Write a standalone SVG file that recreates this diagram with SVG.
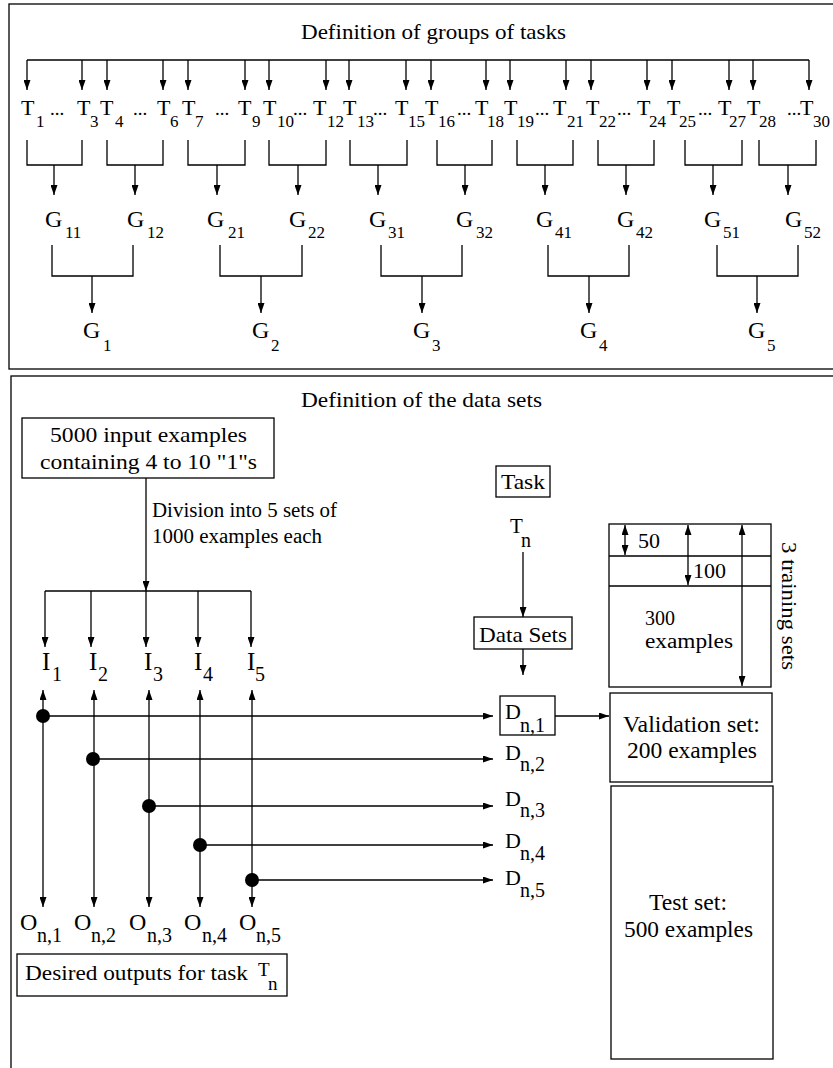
<svg xmlns="http://www.w3.org/2000/svg" width="833" height="1068" viewBox="0 0 833 1068">
<defs>
<style>
text{font-family:"Liberation Serif","Times New Roman",serif;fill:#000}
.ln{stroke:#000;stroke-width:1.3;fill:none}
.ar{stroke:#000;stroke-width:1.3;fill:none;marker-end:url(#ah)}
.da{stroke:#000;stroke-width:1.3;fill:none;marker-end:url(#ah);marker-start:url(#ahs)}
.box{stroke:#000;stroke-width:1.3;fill:#fff}
.big{font-size:22px}
.sub{font-size:17px}
.sub2{font-size:20px}
</style>
<marker id="ah" markerWidth="10" markerHeight="7" refX="10" refY="3.5" orient="auto" markerUnits="userSpaceOnUse"><path d="M0,0 L10,3.5 L0,7 z" fill="#000"/></marker>
<marker id="ahs" markerWidth="10" markerHeight="7" refX="10" refY="3.5" orient="auto-start-reverse" markerUnits="userSpaceOnUse"><path d="M0,0 L10,3.5 L0,7 z" fill="#000"/></marker>
</defs>
<rect width="833" height="1068" fill="#fff"/>

<g id="frame-groups"><rect class="ln" x="9" y="4" width="830" height="365"/></g>
<g id="frame-data"><rect class="ln" x="11" y="376" width="830" height="700"/></g>

<g id="title-groups"><text x="301" y="39" font-size="21" textLength="265" lengthAdjust="spacingAndGlyphs">Definition of groups of tasks</text></g>
<g id="title-data"><text x="301" y="407" font-size="21" textLength="241" lengthAdjust="spacingAndGlyphs">Definition of the data sets</text></g>

<g id="connectors">
<path class="ln" d="M27,60 H809"/>
<path class="ar" d="M27,60 V90"/><path class="ar" d="M82,60 V90"/><path class="ar" d="M107,60 V90"/><path class="ar" d="M163,60 V90"/>
<path class="ar" d="M188,60 V90"/><path class="ar" d="M245,60 V90"/><path class="ar" d="M269,60 V90"/><path class="ar" d="M326,60 V90"/>
<path class="ar" d="M349,60 V90"/><path class="ar" d="M406,60 V90"/><path class="ar" d="M431,60 V90"/><path class="ar" d="M486,60 V90"/>
<path class="ar" d="M510,60 V90"/><path class="ar" d="M566,60 V90"/><path class="ar" d="M591,60 V90"/><path class="ar" d="M647,60 V90"/>
<path class="ar" d="M672,60 V90"/><path class="ar" d="M729,60 V90"/><path class="ar" d="M753,60 V90"/><path class="ar" d="M809,60 V90"/>
<path class="ln" d="M27,140 V165 H82 V140"/><path class="ar" d="M54,165 V195"/>
<path class="ln" d="M107,140 V165 H163 V140"/><path class="ar" d="M135,165 V195"/>
<path class="ln" d="M188,140 V165 H245 V140"/><path class="ar" d="M217,165 V195"/>
<path class="ln" d="M269,140 V165 H326 V140"/><path class="ar" d="M298,165 V195"/>
<path class="ln" d="M350,140 V165 H407 V140"/><path class="ar" d="M378,165 V195"/>
<path class="ln" d="M437,140 V165 H492 V140"/><path class="ar" d="M465,165 V195"/>
<path class="ln" d="M517,140 V165 H573 V140"/><path class="ar" d="M545,165 V195"/>
<path class="ln" d="M598,140 V165 H654 V140"/><path class="ar" d="M626,165 V195"/>
<path class="ln" d="M685,140 V165 H742 V140"/><path class="ar" d="M713,165 V195"/>
<path class="ln" d="M759,140 V165 H816 V140"/><path class="ar" d="M788,165 V195"/>
<path class="ln" d="M52,245 V276 H133 V245"/><path class="ar" d="M92,276 V313"/>
<path class="ln" d="M220,245 V276 H302 V245"/><path class="ar" d="M261,276 V313"/>
<path class="ln" d="M381,245 V276 H462 V245"/><path class="ar" d="M422,276 V313"/>
<path class="ln" d="M548,245 V276 H629 V245"/><path class="ar" d="M589,276 V313"/>
<path class="ln" d="M717,245 V276 H798 V245"/><path class="ar" d="M757,276 V313"/>
<path class="ar" d="M146,478 V591"/>
<path class="ln" d="M45,591 H251"/>
<path class="ar" d="M45,591 V647"/><path class="ar" d="M91,591 V647"/><path class="ar" d="M146,591 V647"/><path class="ar" d="M198,591 V647"/><path class="ar" d="M251,591 V647"/>
<path class="da" d="M43,690 V907"/><path class="da" d="M94,690 V907"/><path class="da" d="M149,690 V907"/><path class="da" d="M200,690 V907"/><path class="da" d="M252,690 V907"/>
<path class="ar" d="M43,716 H493"/>
<path class="ar" d="M94,759 H493"/>
<path class="ar" d="M149,806 H493"/>
<path class="ar" d="M200,845 H493"/>
<path class="ar" d="M252,880 H493"/>
<circle cx="43" cy="716" r="7"/><circle cx="93" cy="759" r="7"/><circle cx="149" cy="806" r="7"/><circle cx="200" cy="845" r="7"/><circle cx="252" cy="880" r="7"/>
<path class="ar" d="M523,552 V617"/>
<path class="ar" d="M523,649 V675"/>
<path class="ar" d="M555,716 H609"/>
<path class="da" d="M625,525 V555"/>
<path class="da" d="M688,525 V585"/>
<path class="da" d="M742,525 V686"/>
</g>

<g id="task-labels" class="big">
<text x="21" y="115">T</text><text class="sub" x="36" y="127">1</text><text x="50" y="115" font-size="19">...</text><text x="77" y="115">T</text><text class="sub" x="90" y="127">3</text>
<text x="100" y="115">T</text><text class="sub" x="115" y="127">4</text><text x="133" y="115" font-size="19">...</text><text x="157" y="115">T</text><text class="sub" x="170" y="127">6</text>
<text x="182" y="115">T</text><text class="sub" x="195" y="127">7</text><text x="215" y="115" font-size="19">...</text><text x="238" y="115">T</text><text class="sub" x="252" y="127">9</text>
<text x="263" y="115">T</text><text class="sub" x="277" y="127">10</text><text x="293" y="115" font-size="19">...</text><text x="313" y="115">T</text><text class="sub" x="327" y="127">12</text>
<text x="343" y="115">T</text><text class="sub" x="357" y="127">13</text><text x="373" y="115" font-size="19">...</text><text x="395" y="115">T</text><text class="sub" x="408" y="127">15</text>
<text x="425" y="115">T</text><text class="sub" x="438" y="127">16</text><text x="457" y="115" font-size="19">...</text><text x="475" y="115">T</text><text class="sub" x="487" y="127">18</text>
<text x="504" y="115">T</text><text class="sub" x="517" y="127">19</text><text x="535" y="115" font-size="19">...</text><text x="553" y="115">T</text><text class="sub" x="567" y="127">21</text>
<text x="586" y="115">T</text><text class="sub" x="599" y="127">22</text><text x="617" y="115" font-size="19">...</text><text x="637" y="115">T</text><text class="sub" x="649" y="127">24</text>
<text x="667" y="115">T</text><text class="sub" x="679" y="127">25</text><text x="698" y="115" font-size="19">...</text><text x="718" y="115">T</text><text class="sub" x="729" y="127">27</text>
<text x="747" y="115">T</text><text class="sub" x="759" y="127">28</text><text x="787" y="115" font-size="19">...</text><text x="800" y="115">T</text><text class="sub" x="813" y="127">30</text>
</g>

<g id="subgroup-labels" font-size="24">
<text x="45" y="227">G</text><text class="sub" x="65" y="238">11</text>
<text x="127" y="227">G</text><text class="sub" x="147" y="238">12</text>
<text x="207" y="227">G</text><text class="sub" x="228" y="238">21</text>
<text x="289" y="227">G</text><text class="sub" x="308" y="238">22</text>
<text x="369" y="227">G</text><text class="sub" x="388" y="238">31</text>
<text x="456" y="227">G</text><text class="sub" x="476" y="238">32</text>
<text x="536" y="227">G</text><text class="sub" x="555" y="238">41</text>
<text x="617" y="227">G</text><text class="sub" x="636" y="238">42</text>
<text x="704" y="227">G</text><text class="sub" x="723" y="238">51</text>
<text x="785" y="227">G</text><text class="sub" x="804" y="238">52</text>
</g>

<g id="group-labels" font-size="24">
<text x="83" y="338">G</text><text class="sub" x="103" y="351">1</text>
<text x="252" y="338">G</text><text class="sub" x="271" y="351">2</text>
<text x="413" y="338">G</text><text class="sub" x="432" y="351">3</text>
<text x="580" y="338">G</text><text class="sub" x="599" y="351">4</text>
<text x="748" y="338">G</text><text class="sub" x="767" y="351">5</text>
</g>

<g id="input-box">
<rect class="box" x="22" y="418" width="252" height="60"/>
<text x="50" y="442" font-size="22" textLength="197" lengthAdjust="spacingAndGlyphs">5000 input examples</text>
<text x="40" y="469" font-size="22" textLength="217" lengthAdjust="spacingAndGlyphs">containing 4 to 10 "1"s</text>
</g>

<g id="division-label" font-size="20">
<text x="152" y="517" textLength="185" lengthAdjust="spacingAndGlyphs">Division into 5 sets of</text>
<text x="152" y="543" textLength="170" lengthAdjust="spacingAndGlyphs">1000 examples each</text>
</g>

<g id="input-sets" font-size="25">
<text x="42" y="670">I</text><text class="sub2" x="52" y="681">1</text>
<text x="89" y="670">I</text><text class="sub2" x="98" y="681">2</text>
<text x="144" y="670">I</text><text class="sub2" x="153" y="681">3</text>
<text x="194" y="670">I</text><text class="sub2" x="203" y="681">4</text>
<text x="247" y="670">I</text><text class="sub2" x="255" y="681">5</text>
</g>

<g id="outputs" font-size="24">
<text x="20" y="930">O</text><text class="sub2" x="37" y="942">n,1</text>
<text x="74" y="930">O</text><text class="sub2" x="91" y="942">n,2</text>
<text x="129" y="930">O</text><text class="sub2" x="147" y="942">n,3</text>
<text x="184" y="930">O</text><text class="sub2" x="202" y="942">n,4</text>
<text x="239" y="930">O</text><text class="sub2" x="256" y="942">n,5</text>
</g>

<g id="desired-box">
<rect class="box" x="17" y="954" width="270" height="42"/>
<text x="25" y="980" font-size="22" textLength="223" lengthAdjust="spacingAndGlyphs">Desired outputs for task</text>
<text x="258" y="976" font-size="19">T</text><text x="268" y="990" font-size="19">n</text>
</g>

<g id="task-box">
<rect class="box" x="496" y="466" width="54" height="31"/>
<text x="501" y="489" font-size="21" textLength="44" lengthAdjust="spacingAndGlyphs">Task</text>
</g>

<g id="task-tn">
<text x="510" y="533" font-size="21">T</text><text x="521" y="547" font-size="20">n</text>
</g>

<g id="datasets-box">
<rect class="box" x="474" y="617" width="98" height="32"/>
<text x="479" y="642" font-size="21" textLength="88" lengthAdjust="spacingAndGlyphs">Data Sets</text>
</g>

<g id="d-sets" font-size="22">
<rect class="box" x="500" y="696" width="55" height="39"/>
<text x="505" y="719">D</text><text class="sub2" x="520" y="732">n,1</text>
<text x="505" y="760">D</text><text class="sub2" x="520" y="771">n,2</text>
<text x="505" y="806">D</text><text class="sub2" x="520" y="817">n,3</text>
<text x="505" y="848">D</text><text class="sub2" x="520" y="860">n,4</text>
<text x="505" y="885">D</text><text class="sub2" x="520" y="897">n,5</text>
</g>

<g id="training-box">
<rect class="ln" x="609" y="524" width="162" height="163"/>
<path class="ln" d="M609,556 H771 M609,586 H771"/>
<text x="638" y="548" font-size="22">50</text>
<text x="693" y="578" font-size="22">100</text>
<text x="645" y="625" font-size="20">300</text>
<text x="645" y="648" font-size="20" textLength="88" lengthAdjust="spacingAndGlyphs">examples</text>
<text transform="translate(782,606) rotate(90)" text-anchor="middle" font-size="21" textLength="128" lengthAdjust="spacingAndGlyphs">3 training sets</text>
</g>

<g id="validation-box">
<rect class="ln" x="610" y="693" width="162" height="89"/>
<text x="623" y="732" font-size="23" textLength="137" lengthAdjust="spacingAndGlyphs">Validation set:</text>
<text x="627" y="758" font-size="23" textLength="130" lengthAdjust="spacingAndGlyphs">200 examples</text>
</g>

<g id="test-box">
<rect class="ln" x="611" y="786" width="162" height="273"/>
<text x="649" y="910" font-size="23" textLength="78" lengthAdjust="spacingAndGlyphs">Test set:</text>
<text x="624" y="937" font-size="23" textLength="129" lengthAdjust="spacingAndGlyphs">500 examples</text>
</g>
</svg>
